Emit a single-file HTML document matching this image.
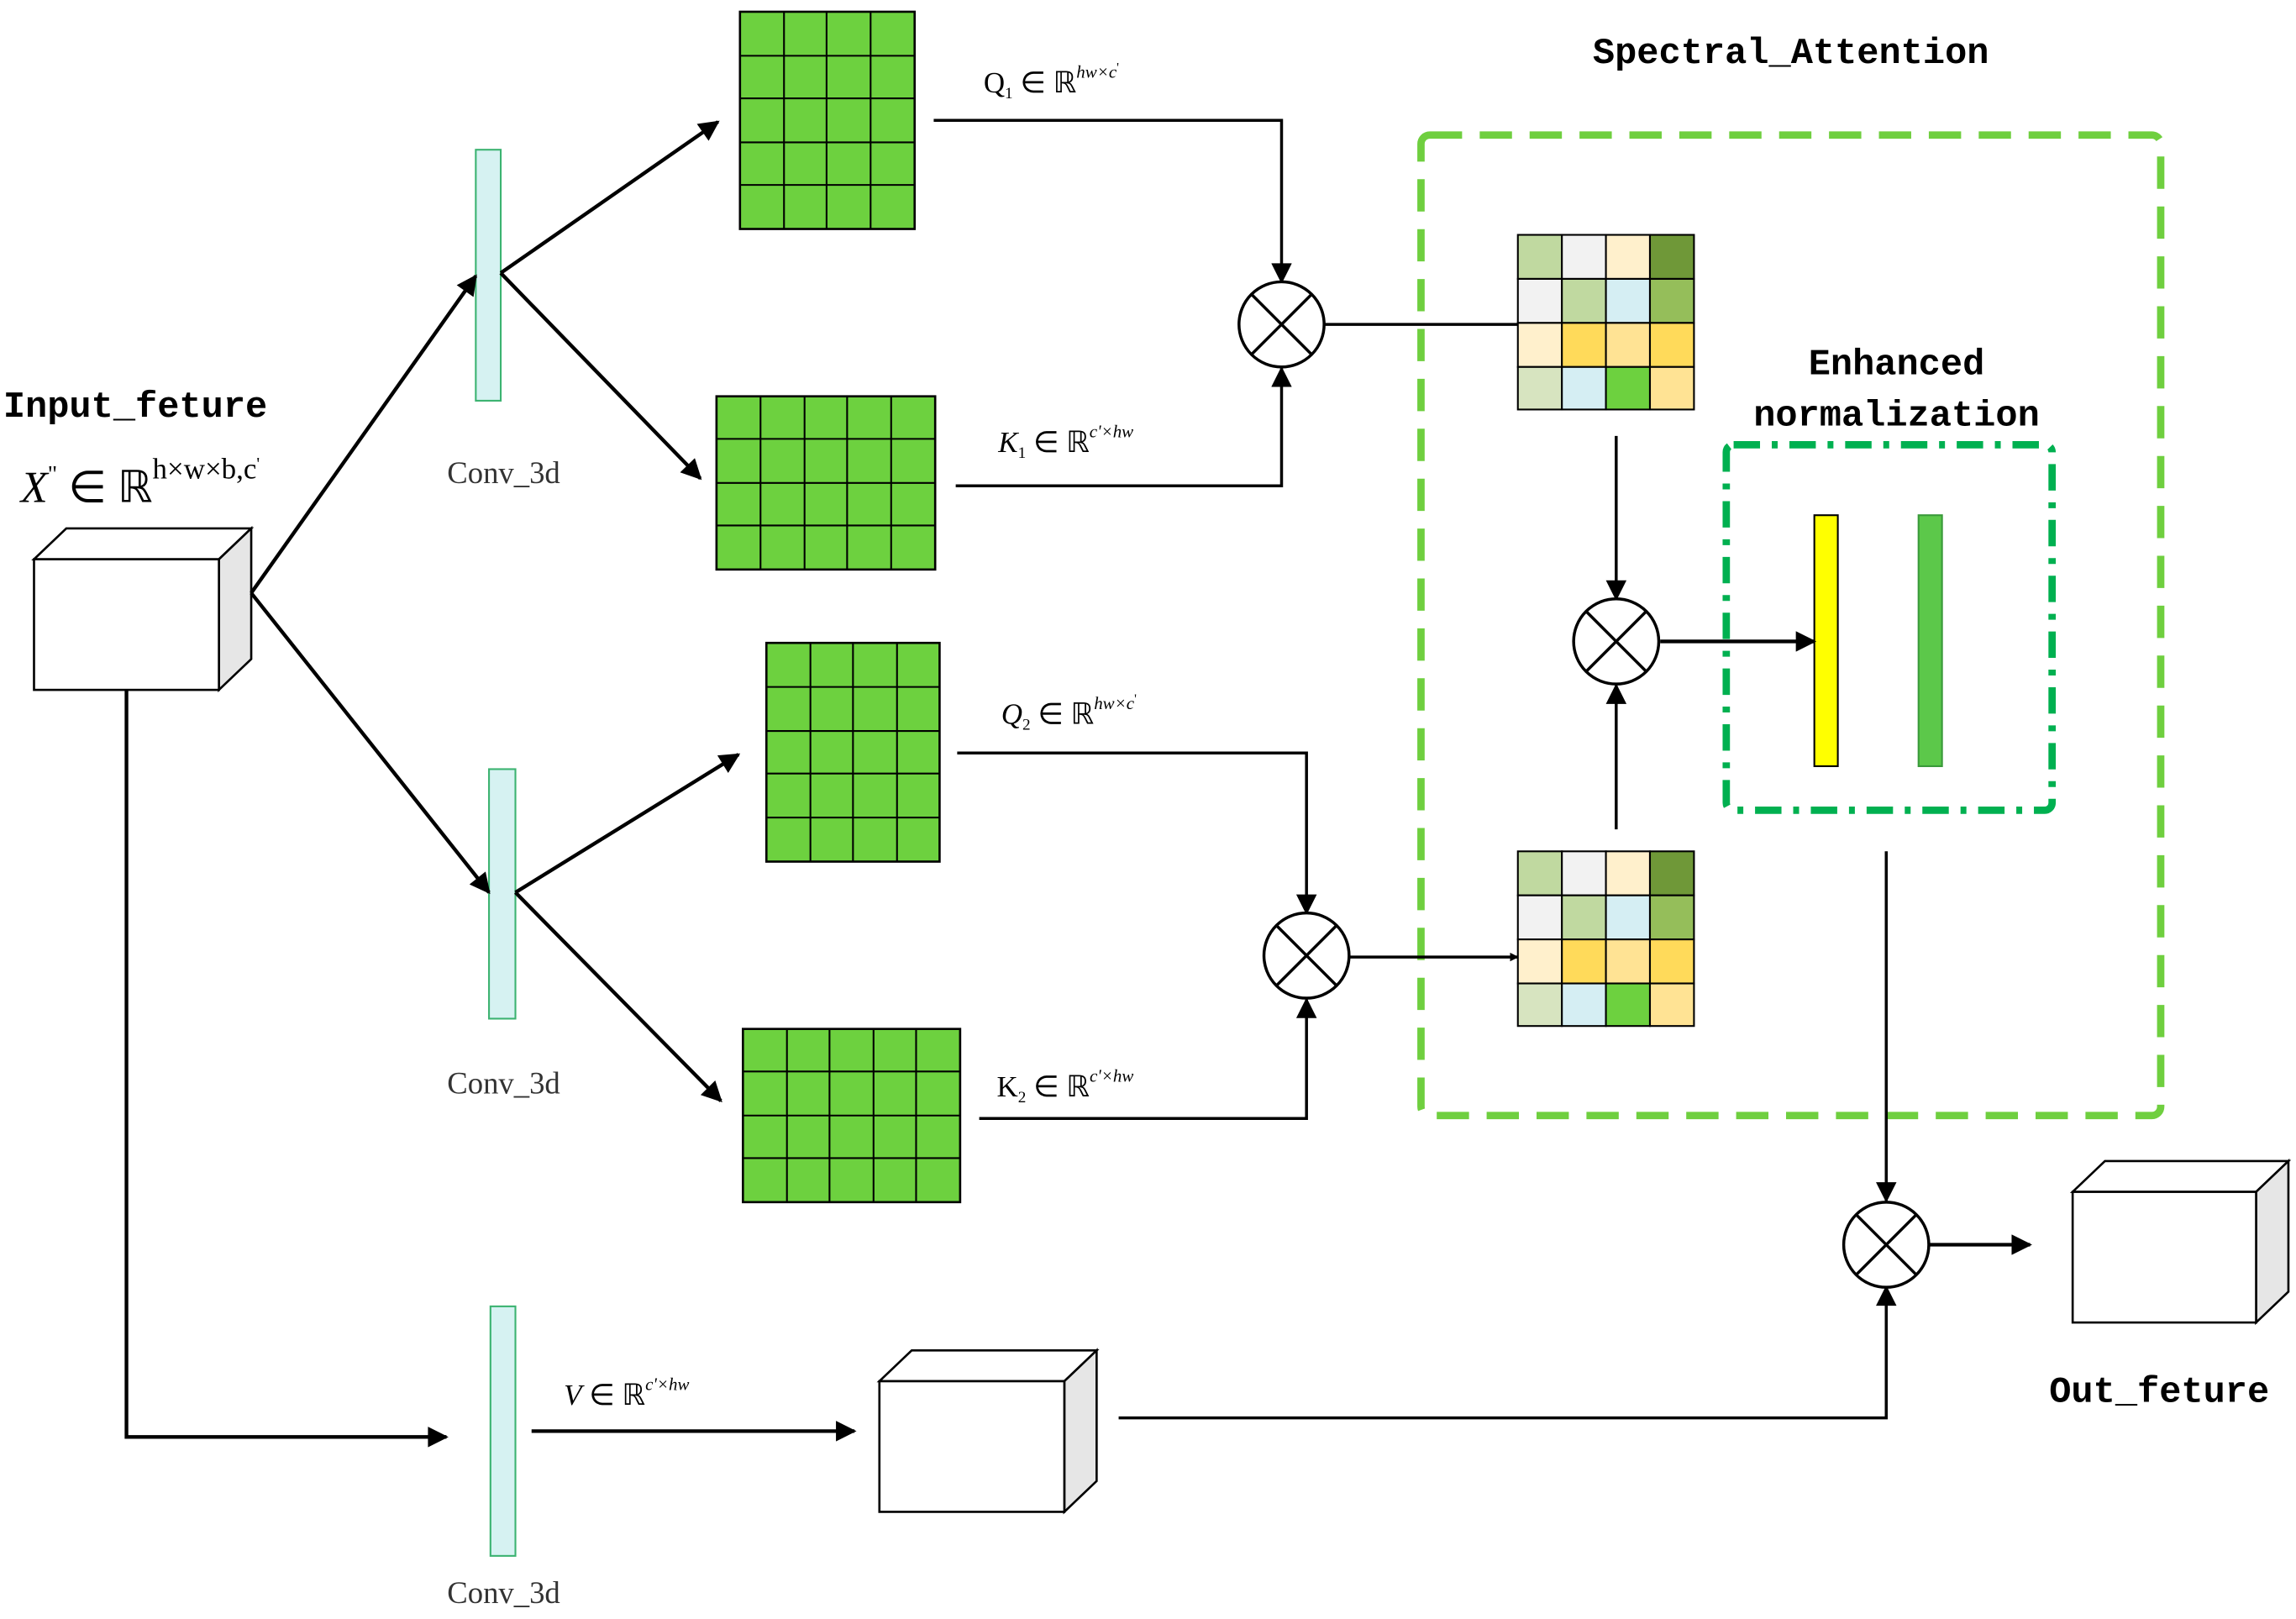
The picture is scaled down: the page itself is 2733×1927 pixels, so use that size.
<!DOCTYPE html>
<html><head><meta charset="utf-8"><style>html,body{margin:0;padding:0;background:#fff}svg{display:block}</style></head><body>
<svg width="2733" height="1927" viewBox="0 0 1564 1103" xmlns="http://www.w3.org/2000/svg">
<defs>
<marker id="a" viewBox="0 0 10 10" refX="9" refY="5" markerWidth="6" markerHeight="6" orient="auto" markerUnits="userSpaceOnUse"><path d="M0,0L10,5L0,10z" fill="#000"/></marker>
<marker id="b" viewBox="0 0 10 10" refX="9" refY="5" markerWidth="16" markerHeight="14" orient="auto" markerUnits="userSpaceOnUse"><path d="M0,0L10,5L0,10z" fill="#000"/></marker>
<pattern id="g45" x="504" y="8" width="29.75" height="29.6" patternUnits="userSpaceOnUse"><rect width="29.75" height="29.6" fill="#6dd13f" stroke="#000" stroke-width="1.5"/></pattern>
</defs>
<g font-family="Liberation Mono, monospace" font-weight="bold" font-size="25" text-anchor="middle" fill="#000">
<text x="1220" y="43">Spectral_Attention</text>
<text x="1292" y="255">Enhanced</text>
<text x="1292" y="290">normalization</text>
<text x="92" y="284">Input_feture</text>
<text x="1471" y="955">Out_feture</text>
</g>
<g font-family="Liberation Serif, serif" font-size="21" fill="#333" text-anchor="middle">
<text x="343" y="329">Conv_3d</text><text x="343" y="745">Conv_3d</text><text x="343" y="1092">Conv_3d</text>
</g>
<g font-family="Liberation Serif, serif" fill="#000">
<text x="14" y="342" font-size="30"><tspan font-style="italic">X</tspan><tspan font-size="16" dy="-14">"</tspan><tspan dy="14"> ∈ ℝ</tspan><tspan font-size="20" dy="-16">h×w×b,c</tspan><tspan font-size="12" dy="-6">'</tspan></text>
<text x="670" y="63" font-size="20">Q<tspan font-size="11" dy="4">1</tspan><tspan dy="-4"> ∈ ℝ</tspan><tspan font-size="12" font-style="italic" dy="-10">hw×c</tspan><tspan font-size="9" dy="-4">'</tspan></text>
<text x="680" y="308" font-size="20"><tspan font-style="italic">K</tspan><tspan font-size="11" dy="4">1</tspan><tspan dy="-4"> ∈ ℝ</tspan><tspan font-size="12" font-style="italic" dy="-10">c'×hw</tspan></text>
<text x="682" y="493" font-size="20"><tspan font-style="italic">Q</tspan><tspan font-size="11" dy="4">2</tspan><tspan dy="-4"> ∈ ℝ</tspan><tspan font-size="12" font-style="italic" dy="-10">hw×c</tspan><tspan font-size="9" dy="-4">'</tspan></text>
<text x="679" y="747" font-size="20">K<tspan font-size="11" dy="4">2</tspan><tspan dy="-4"> ∈ ℝ</tspan><tspan font-size="12" font-style="italic" dy="-10">c'×hw</tspan></text>
<text x="384" y="957" font-size="20"><tspan font-style="italic">V</tspan> ∈ ℝ<tspan font-size="12" font-style="italic" dy="-10">c'×hw</tspan></text>
</g>
<!-- cubes -->
<g stroke="#000" stroke-width="1.5">
<path d="M23,381L45,360L171,360L149,381z" fill="#fff"/><path d="M149,381L171,360L171,449L149,470z" fill="#e6e6e6"/><rect x="23" y="381" width="126" height="89" fill="#fff"/>
<path d="M599,941L621,920L747,920L725,941z" fill="#fff"/><path d="M725,941L747,920L747,1009L725,1030z" fill="#e6e6e6"/><rect x="599" y="941" width="126" height="89" fill="#fff"/>
<path d="M1412,812L1434,791L1559,791L1537,812z" fill="#fff"/><path d="M1537,812L1559,791L1559,880L1537,901z" fill="#e6e6e6"/><rect x="1412" y="812" width="125" height="89" fill="#fff"/>
</g>
<!-- conv bars -->
<g fill="#d6f2f2" stroke="#3cb371" stroke-width="1.2">
<rect x="324" y="102" width="17" height="171"/><rect x="333" y="524" width="18" height="170"/><rect x="334" y="890" width="17" height="170"/>
</g>
<!-- green grids -->
<g fill="#6dd13f" stroke="#000" stroke-width="1.5">
<rect x="504" y="8" width="119" height="148"/><rect x="488" y="270" width="149" height="118"/><rect x="522" y="438" width="118" height="149"/><rect x="506" y="701" width="148" height="118"/>
</g>
<g stroke="#000" stroke-width="1.2" fill="none">
<path d="M534,8V156M563,8V156M593,8V156M504,38H623M504,67H623M504,97H623M504,126H623"/>
<path d="M518,270V388M548,270V388M577,270V388M607,270V388M488,299H637M488,329H637M488,358H637"/>
<path d="M552,438V587M581,438V587M611,438V587M522,468H640M522,498H640M522,527H640M522,557H640"/>
<path d="M536,701V819M565,701V819M595,701V819M624,701V819M506,730H654M506,760H654M506,789H654"/>
</g>
<!-- colored matrices -->
<g stroke="#000" stroke-width="1.2">
<g id="m1">
<rect x="1034" y="160" width="30" height="30" fill="#c0d9a0"/><rect x="1064" y="160" width="30" height="30" fill="#f2f2f2"/><rect x="1094" y="160" width="30" height="30" fill="#fff0cc"/><rect x="1124" y="160" width="30" height="30" fill="#6f9838"/>
<rect x="1034" y="190" width="30" height="30" fill="#f2f2f2"/><rect x="1064" y="190" width="30" height="30" fill="#c0d9a0"/><rect x="1094" y="190" width="30" height="30" fill="#d5eef3"/><rect x="1124" y="190" width="30" height="30" fill="#95be5a"/>
<rect x="1034" y="220" width="30" height="30" fill="#fff0cc"/><rect x="1064" y="220" width="30" height="30" fill="#ffda5a"/><rect x="1094" y="220" width="30" height="30" fill="#ffe394"/><rect x="1124" y="220" width="30" height="30" fill="#ffda5a"/>
<rect x="1034" y="250" width="30" height="29" fill="#d7e4c0"/><rect x="1064" y="250" width="30" height="29" fill="#d5eef3"/><rect x="1094" y="250" width="30" height="29" fill="#6dd13f"/><rect x="1124" y="250" width="30" height="29" fill="#ffe394"/>
</g>
<use href="#m1" y="420"/>
</g>
<!-- bars in normalization -->
<rect x="1236" y="351" width="16" height="171" fill="#ffff00" stroke="#000" stroke-width="1.2"/>
<rect x="1307" y="351" width="16" height="171" fill="#5cc84a" stroke="#3a9a3a" stroke-width="1.2"/>
<!-- boxes -->
<rect x="968" y="92" width="504" height="668" rx="6" fill="none" stroke="#6fcf3f" stroke-width="5" stroke-dasharray="22 12"/>
<rect x="1176" y="303" width="222" height="249" rx="5" fill="none" stroke="#00b050" stroke-width="5" stroke-dasharray="18 8 4 8"/>
<!-- arrows -->
<g stroke="#000" stroke-width="2.5" fill="none" marker-end="url(#b)">
<path d="M171,404L324,188"/><path d="M341,186L489,83"/><path d="M341,186L477,326"/>
<path d="M171,404L333,608"/><path d="M351,608L503,514"/><path d="M351,608L491,750"/>
<path d="M86,470V979H304"/><path d="M362,975H582"/>
<path d="M1131,437H1236"/><path d="M1314,848H1383"/>
</g>
<g stroke="#000" stroke-width="2" fill="none" marker-end="url(#b)">
<path d="M636,82H873V192"/><path d="M651,331H873V251"/>
<path d="M652,513H890V622"/><path d="M667,762H890V681"/>
<path d="M1101,297V408"/><path d="M1101,565V467"/>
<path d="M1285,580V818"/><path d="M762,966H1285V877"/>
</g>
<g stroke="#000" stroke-width="2" fill="none">
<path d="M902,221H1034"/><path d="M919,652H1034" marker-end="url(#a)"/>
</g>
<!-- otimes -->
<g stroke="#000" stroke-width="2" fill="#fff">
<g transform="translate(873,221)"><circle r="29"/><path d="M-20.5,-20.5L20.5,20.5M20.5,-20.5L-20.5,20.5"/></g>
<g transform="translate(890,651)"><circle r="29"/><path d="M-20.5,-20.5L20.5,20.5M20.5,-20.5L-20.5,20.5"/></g>
<g transform="translate(1101,437)"><circle r="29"/><path d="M-20.5,-20.5L20.5,20.5M20.5,-20.5L-20.5,20.5"/></g>
<g transform="translate(1285,848)"><circle r="29"/><path d="M-20.5,-20.5L20.5,20.5M20.5,-20.5L-20.5,20.5"/></g>
</g>
</svg>
</body></html>
